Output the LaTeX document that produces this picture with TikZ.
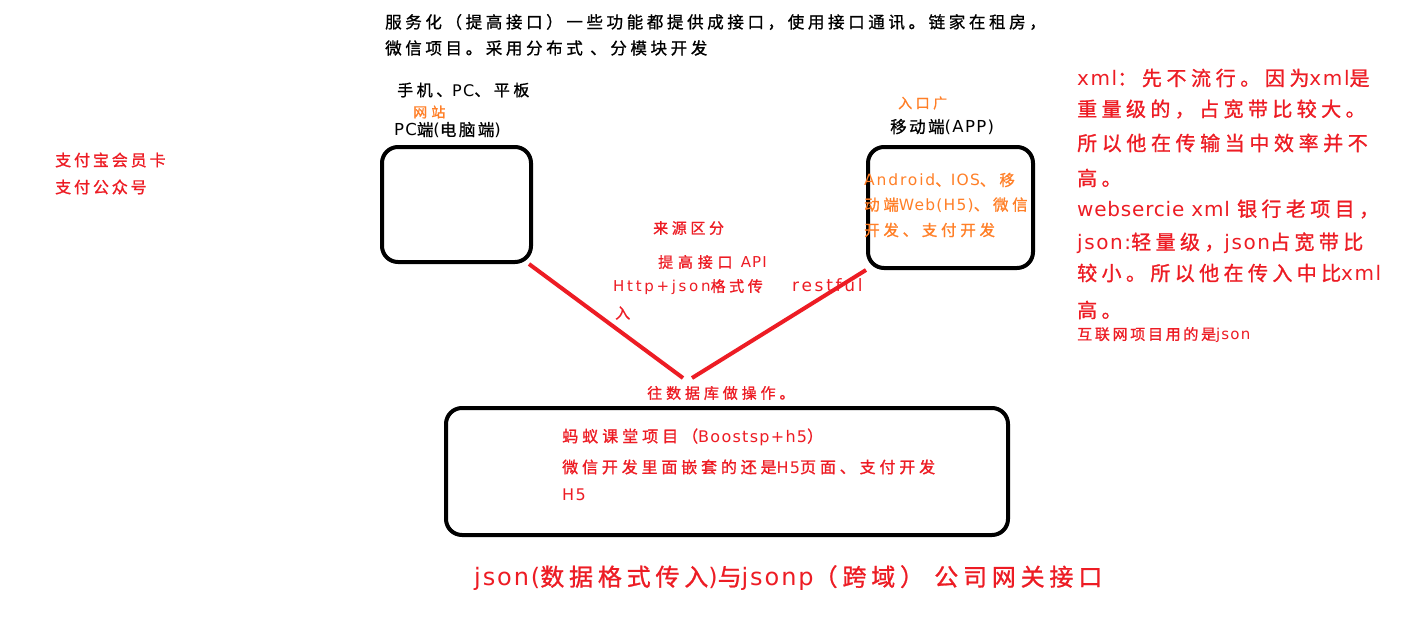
\documentclass[tikz,border=0pt]{standalone}
\usepackage{fontspec}
\setmainfont{Liberation Sans}
\newfontfamily\zh[FakeBold=1]{Noto Sans CJK SC}
\newfontfamily\la[LetterSpace=8]{DejaVu Sans}
\newcommand\latn[1]{{\la #1}}
\newcommand\zf[2]{\fontsize{#1}{#1}\zh\addfontfeature{LetterSpace=#2}}
\definecolor{pred}{HTML}{ED1C24}
\definecolor{porange}{HTML}{FF7F27}
\tikzset{
  box/.style={draw=black, line width=4pt, rounded corners=16pt, inner sep=0pt},
  txt/.style={anchor=west, inner sep=0pt},
  link/.style={draw=pred, line width=4pt},
}
\begin{document}
\begin{tikzpicture}[x=1pt,y=-1pt]
\useasboundingbox[fill=white] (0,0) rectangle (1405,618);
% boxes
\node[box, minimum width=149pt, minimum height=115pt] (pc) at (456.5,204.5) {};
\node[box, minimum width=165pt, minimum height=121pt] (app) at (950.5,207.5) {};
\node[box, minimum width=562pt, minimum height=127pt] (db) at (727,471.5) {};
% connectors
\coordinate (j1) at (683,378);
\coordinate (j2) at (692,378);
\draw[link] (pc.south east) ++(-4,0) coordinate (s1) (s1) -- (j1);
\draw[link] (app.south west) -- (j2);
% top text
\node[txt, font=\zf{16.5}{22}] (t1) at (385,22) {服务化（提高接口）一些功能都提供成接口，使用接口通讯。链家在租房，};
\node[txt, font=\zf{16.5}{22}] (t2) at (385,48) {微信项目。采用分布式 、分模块开发};
% PC side
\node[txt, font=\zf{16}{22}] (dev) at (397,90) {手机、\latn{PC}、平板};
\node[txt, font=\zf{14}{30}, text=porange] (web) at (413,112) {网站};
\node[txt, font=\zf{16.5}{15}] (pcl) at (394,130) {\latn{PC}端\latn{(}电脑端\latn{)}};
% APP side
\node[txt, font=\zf{14}{25}, text=porange] (entry) at (898,103) {入口广};
\node[txt, font=\zf{16.5}{15}] (appl) at (890,127) {移动端\latn{(APP)}};
\node[txt, font=\zf{15.5}{26}, text=porange] (a1) at (864,180) {{\la\addfontfeature{LetterSpace=12}Android}、\latn{IOS}、移};
\node[txt, font=\zf{15.5}{24}, text=porange] (a2) at (864,205) {动端\latn{Web(H5)}、微信};
\node[txt, font=\zf{15.5}{24}, text=porange] (a3) at (864,230) {开发、支付开发};
% left
\node[txt, font=\zf{16}{18}, text=pred] (l1) at (55,160) {支付宝会员卡};
\node[txt, font=\zf{16}{18}, text=pred] (l2) at (55,187) {支付公众号};
% middle
\node[txt, font=\zf{15}{24}, text=pred] (m1) at (653,228) {来源区分};
\node[txt, font=\zf{15}{32}, text=pred] (m2) at (658,262) {提高接口 \latn{API}};
\node[txt, font=\zf{15}{24}, text=pred] (m3) at (613,287) {{\la\addfontfeature{LetterSpace=18}Http+json}格式传};
\node[txt, font=\zf{15}{15}, text=pred] (m4) at (615,313) {入};
\node[txt, font=\fontsize{17}{17}\la\addfontfeature{LetterSpace=16}, text=pred] (m5) at (792,285) {restful};
\node[txt, font=\zf{15}{26}, text=pred] (m6) at (647,393) {往数据库做操作。};
% bottom box text
\node[txt, font=\zf{16}{25}, text=pred] (b1) at (562,437) {蚂蚁课堂项目（\latn{Boostsp+h5}）};
\node[txt, font=\zf{16}{24}, text=pred] (b2) at (562,467) {微信开发里面嵌套的还是\latn{H5}页面、支付开发};
\node[txt, font=\zf{16}{24}, text=pred] (b3) at (562,495) {\latn{H5}};
% right
\node[txt, font=\zf{20}{23}, text=pred] (r1) at (1077,78) {\latn{xml}：先不流行。因为\latn{xml}是};
\node[txt, font=\zf{20}{22}, text=pred] (r2) at (1077,109) {重量级的，占宽带比较大。};
\node[txt, font=\zf{20}{23}, text=pred] (r3) at (1077,143) {所以他在传输当中效率并不};
\node[txt, font=\zf{20}{22}, text=pred] (r4) at (1077,178) {高。};
\node[txt, font=\zf{20}{22}, text=pred] (r5) at (1077,209) {{\la\addfontfeature{LetterSpace=4}websercie xml }银行老项目，};
\node[txt, font=\zf{20}{22}, text=pred] (r6) at (1077,243) {\latn{json:}轻量级，\latn{json}占宽带比};
\node[txt, font=\zf{20}{22}, text=pred] (r7) at (1077,273) {较小。所以他在传入中比\latn{xml}};
\node[txt, font=\zf{20}{22}, text=pred] (r8) at (1077,310) {高。};
\node[txt, font=\zf{15}{18}, text=pred] (r9) at (1077,335) {互联网项目用的是\latn{json}};
% bottom
\node[txt, font=\zf{24}{20}, text=pred] (bot) at (474,578) {\latn{json(}数据格式传入\latn{)}与\latn{jsonp}（跨域） 公司网关接口};
\end{tikzpicture}
\end{document}
